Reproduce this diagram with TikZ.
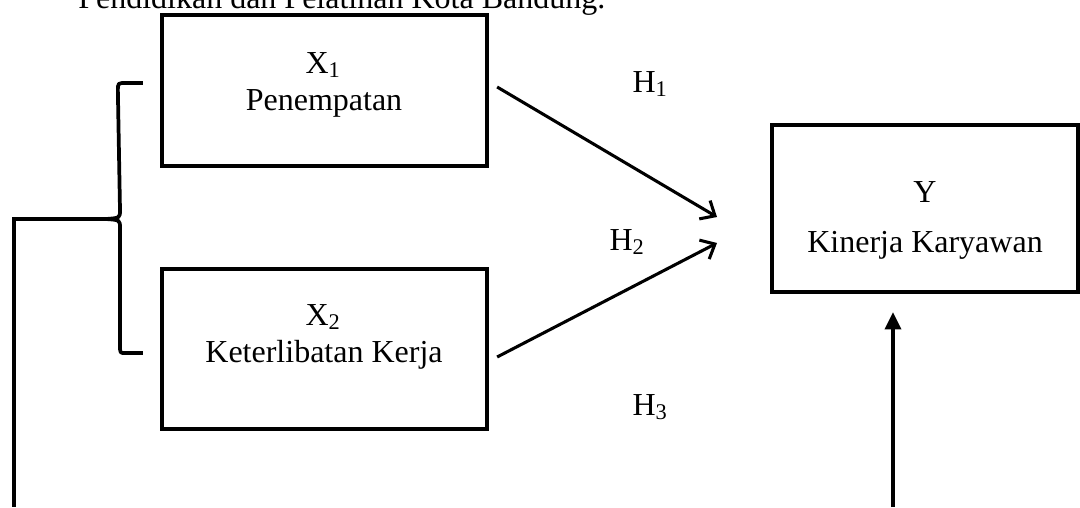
\documentclass[tikz,border=0pt]{standalone}
\usepackage{fontspec}
\setmainfont{Liberation Serif}
\usetikzlibrary{arrows.meta}
\begin{document}
\begin{tikzpicture}[
	x=0.75pt, y=-0.75pt,
	every node/.style={font=\fontsize{24}{28}\selectfont, inner sep=0pt},
	kotak/.style={rectangle, draw, line width=3.2pt, minimum width=243.75pt},
	teks/.style={anchor=base},
	garis/.style={line width=2.8pt},
	panah/.style={line width=2.3pt, -{Straight Barb[length=9pt, width=16pt, line width=2.3pt]}},
	panahtegak/.style={line width=2.8pt, -{Triangle[length=13pt, width=12pt]}}]
	\useasboundingbox (0,0) rectangle (1080,507);
	\node[teks, anchor=base west] (judul) at (78,8) {Pendidikan dan Pelatihan Kota Bandung.};
	\node[kotak, minimum height=113.25pt] (x1) at (324.5,90.5) {};
	\node[teks] (x1v) at (323,73) {X\textsubscript{1}};
	\node[teks] (x1n) at (324,110) {Penempatan};
	\node[kotak, minimum height=120pt] (x2) at (324.5,349) {};
	\node[teks] (x2v) at (323,325) {X\textsubscript{2}};
	\node[teks] (x2n) at (324,362) {Keterlibatan Kerja};
	\node[kotak, minimum width=229.5pt, minimum height=125.25pt] (y) at (925,208.5) {};
	\node[teks] (yv) at (925,202) {Y};
	\node[teks] (yn) at (925,252) {Kinerja Karyawan};
	\node[teks] (h1) at (650,92) {H\textsubscript{1}};
	\node[teks] (h2) at (627,250) {H\textsubscript{2}};
	\node[teks] (h3) at (650,415) {H\textsubscript{3}};
	\coordinate (t1) at (717,217);
	\coordinate (t2) at (717,243);
	\coordinate (ujung) at (106,219);
	\coordinate (siku) at (14,219);
	\coordinate (bawah) at (14,507);
	\coordinate (bawahy) at (893,507);
	\draw[panah] ([shift={(8,-3.5)}]x1.east) -- (t1);
	\draw[panah] ([shift={(8,8)}]x2.east) -- (t2);
	\draw[garis, line join=round] ([shift={(-17,-7.5)}]x1.west) -- ++(-17,0)
		.. controls ++(-8,0) .. ++(-8,8) -- (120,210)
		.. controls (120,218) .. (ujung)
		.. controls (120,220) .. (120,228) -- (120,345)
		.. controls (120,353) .. ([shift={(-35,4)}]x2.west) -- ([shift={(-17,4)}]x2.west);
	\draw[garis, line width=3pt] (ujung) -- (siku) -- (bawah);
	\draw[panahtegak] (bawahy) -- ([xshift=-24pt, yshift=-13.5pt]y.south);
\end{tikzpicture}
\end{document}
